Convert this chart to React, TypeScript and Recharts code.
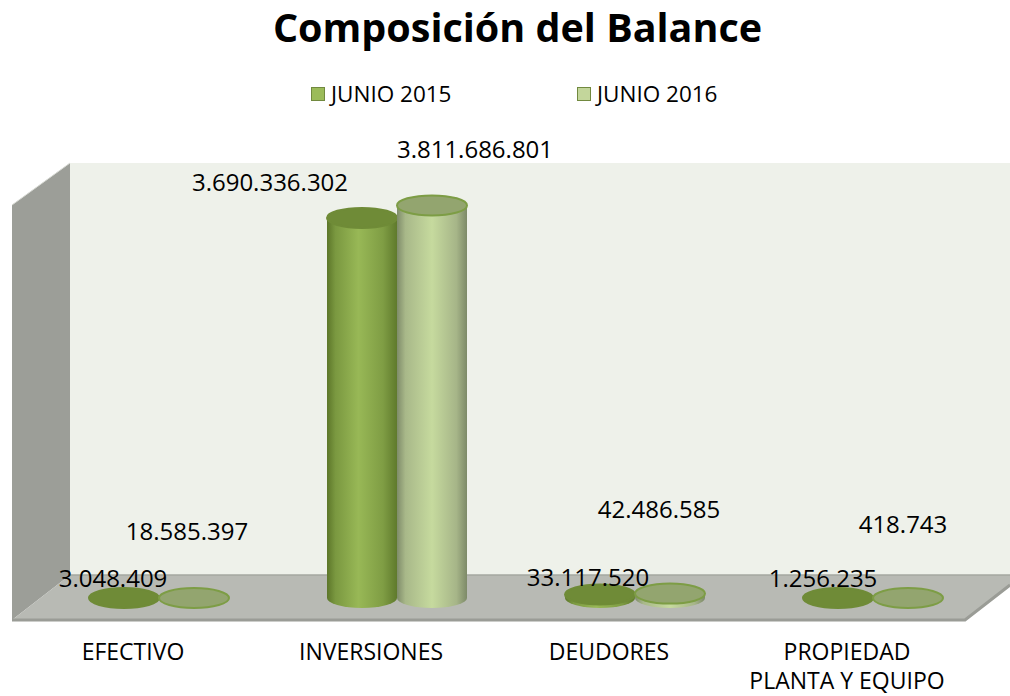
import React from 'react';
import {Bar, BarChart, LabelList, XAxis, YAxis} from 'recharts';

const categories = ['EFECTIVO', 'INVERSIONES', 'DEUDORES', 'PROPIEDAD PLANTA Y EQUIPO'];
const junio2015 = [3048409, 3690336302, 33117520, 1256235];
const junio2016 = [18585397, 3811686801, 42486585, 418743];

// label nudges (dx, dy) relative to the top centre of each cylinder, like excel placed them
const nudge2015 = [[-11, -20], [-92, -36], [-12, -18], [-15, -20]];
const nudge2016 = [[-7, -66], [43, -57], [-11, -85], [-5, -74]];

const data = categories.map((name, i) => ({
    name,
    j2015: junio2015[i],
    j2016: junio2016[i]
}));

const FONT = '"Open Sans", "Noto Sans", sans-serif';

const fmt = (v: number) => String(v).replace(/\B(?=(\d{3})+(?!\d))/g, '.');

const Cylinder = (props: any) => {
    const {x, y, width, height, body, top, stroke} = props;
    const rx = width / 2;
    const ry = 10;
    const cx = x + rx;
    const base = y + height;
    if (height < 2) {
        return (
            <g>
                <ellipse cx={cx} cy={base} rx={rx} ry={ry} fill={top} stroke={stroke} strokeWidth={2}/>
            </g>
        );
    }
    const d = `M${x},${y} L${x},${base} A${rx},${ry} 0 0 0 ${x + width},${base} L${x + width},${y} Z`;
    return (
        <g>
            <path d={d} fill={body}/>
            <ellipse cx={cx} cy={y} rx={rx} ry={ry} fill={top} stroke={stroke} strokeWidth={2}/>
        </g>
    );
};

const makeLabel = (nudge: number[][]) => (props: any) => {
    const {x, y, width, value, index} = props;
    const [dx, dy] = nudge[index] || [0, -20];
    return (
        <text x={x + width / 2 + dx} y={y + dy} textAnchor="middle" dominantBaseline="central"
              fontFamily={FONT} fontSize={24} fill="#000">
            {fmt(value)}
        </text>
    );
};

const CategoryTick = (props: any) => {
    const {x, y, payload} = props;
    const label: string = payload.value;
    const lines = label.length > 12
        ? [label.slice(0, label.indexOf(' ')), label.slice(label.indexOf(' ') + 1)]
        : [label];
    return (
        <g>
            {lines.map((l, i) => (
                <text key={i} x={x - 26} y={y + 53 + i * 29} textAnchor="middle" dominantBaseline="central"
                      fontFamily={FONT} fontSize={23} fill="#000">{l}</text>
            ))}
        </g>
    );
};

const Backdrop = () => (
    <svg width={1010} height={696} style={{position: 'absolute', left: 0, top: 0}}>
        <polygon points="70,163 1010,163 1010,575 70,575" fill="#eef1ea"/>
        <polygon points="12,205 70,163 70,575 12,620" fill="#9c9e98"/>
        <line x1={12} y1={205} x2={70} y2={163} stroke="#d8dad4" strokeWidth={1}/>
        <polygon points="70,575 1010,575 1010,585 965,620 12,620" fill="#b8bab4"/>
        <line x1={70} y1={575} x2={1010} y2={575} stroke="#a5a7a1" strokeWidth={1.5}/>
        <polyline points="12,620 965,620 1010,585" fill="none" stroke="#9a9c96" strokeWidth={3}/>
    </svg>
);

const LegendBox = ({color, label, left}: {color: string, label: string, left: number}) => (
    <div style={{position: 'absolute', left, top: 78, display: 'flex', alignItems: 'center'}}>
        <div style={{width: 12, height: 12, background: color, border: '1.5px solid #71893f', marginRight: 6}}/>
        <span style={{fontFamily: FONT, fontSize: 22.5, color: '#000'}}>{label}</span>
    </div>
);

const App: React.FC = () => {
    return (
        <div style={{position: 'absolute', left: 0, top: 0, width: 1010, height: 696, background: '#fff', overflow: 'hidden'}}>
            <Backdrop/>
            <div style={{
                position: 'absolute', left: 0, top: 0, width: 1035, textAlign: 'center',
                fontFamily: FONT, fontWeight: 700, fontSize: 39.5, color: '#000'
            }}>
                Composición del Balance
            </div>
            <LegendBox color="#9bbb59" label="JUNIO 2015" left={311}/>
            <LegendBox color="#c3d69b" label="JUNIO 2016" left={577}/>
            <div style={{position: 'absolute', left: 0, top: 0}}>
                <BarChart width={1010} height={696} data={data} barSize={70} barGap={0}
                          margin={{top: 186, right: 18, left: 40, bottom: 38}}>
                    <defs>
                        <linearGradient id="body2015" x1="0" y1="0" x2="1" y2="0">
                            <stop offset="0%" stopColor="#5c7629"/>
                            <stop offset="12%" stopColor="#7a9840"/>
                            <stop offset="45%" stopColor="#98b856"/>
                            <stop offset="80%" stopColor="#7f9d44"/>
                            <stop offset="100%" stopColor="#5f7a2c"/>
                        </linearGradient>
                        <linearGradient id="body2016" x1="0" y1="0" x2="1" y2="0">
                            <stop offset="0%" stopColor="#7f8c6a"/>
                            <stop offset="12%" stopColor="#a8b889"/>
                            <stop offset="50%" stopColor="#c6da9e"/>
                            <stop offset="85%" stopColor="#a6b588"/>
                            <stop offset="100%" stopColor="#7d8a68"/>
                        </linearGradient>
                    </defs>
                    <XAxis dataKey="name" axisLine={false} tickLine={false} tickSize={0} tickMargin={0}
                           height={60} interval={0} tick={<CategoryTick/>}/>
                    <YAxis hide domain={[0, 4000000000]}/>
                    <Bar dataKey="j2015" isAnimationActive={false}
                         shape={(p: any) => <Cylinder {...p} body="url(#body2015)" top="#6f8b37" stroke="#6f8b37"/>}>
                        <LabelList dataKey="j2015" content={makeLabel(nudge2015)}/>
                    </Bar>
                    <Bar dataKey="j2016" isAnimationActive={false}
                         shape={(p: any) => <Cylinder {...p} body="url(#body2016)" top="#93a56f" stroke="#7d9d45"/>}>
                        <LabelList dataKey="j2016" content={makeLabel(nudge2016)}/>
                    </Bar>
                </BarChart>
            </div>
        </div>
    );
};

export default App;
